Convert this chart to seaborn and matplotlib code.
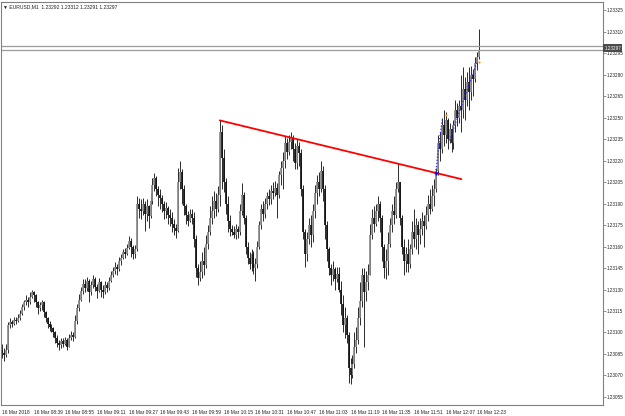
import numpy as np
import pandas as pd
import matplotlib
matplotlib.use("Agg")
import matplotlib.pyplot as plt
import matplotlib.transforms as mtransforms
import seaborn as sns

# ---------------- data (prices expressed in points above 1.23000) ----------------
base_price = 1.23
first_open_pts = 88

close_pts = [
    86, 84, 88, 105, 107, 106, 109, 108, 110, 113,
    118, 121, 123, 121, 125, 128, 126, 121, 117, 119,
    121, 114, 110, 106, 104, 103, 100, 96, 93, 91,
    94, 92, 95, 90, 96, 98, 97, 108, 117, 123,
    129, 134, 131, 136, 128, 133, 137, 132, 129, 135,
    130, 128, 133, 131, 136, 140, 143, 146, 144, 150,
    152, 156, 155, 159, 164, 160, 155, 158, 190, 186,
    185, 190, 183, 188, 181, 192, 203, 208, 200, 196,
    194, 190, 185, 187, 182, 180, 176, 173, 171, 205,
    212, 200, 188, 182, 178, 183, 180, 165, 145, 138,
    142, 150, 147, 162, 170, 180, 185, 192, 186, 196,
    240, 222, 205, 190, 178, 172, 170, 168, 172, 170,
    185, 196, 180, 160, 152, 148, 155, 145, 148, 160,
    175, 186, 183, 190, 195, 193, 199, 197, 201, 196,
    210, 215, 220, 232, 226, 233, 236, 228, 218, 230,
    225, 200, 170, 155, 165, 175, 168, 185, 197, 205,
    200, 213, 200, 175, 158, 145, 140, 144, 137, 141,
    130, 120, 105, 110, 98, 75, 70, 78, 90, 95,
    110, 122, 140, 128, 135, 140, 168, 180, 176, 185,
    190, 180, 160, 145, 150, 162, 175, 185, 182, 200,
    205, 180, 160, 150, 155, 148, 158, 170, 165, 175,
    168, 172, 178, 174, 182, 190, 186, 195, 200, 213,
    232, 228, 245, 238, 248, 235, 242, 232, 245, 255,
    250, 258, 255, 270, 262, 275, 268, 280, 277, 288,
    292, 297,
]
high_pts = [
    92, 89, 92, 107, 110, 109, 111, 111, 113, 116,
    120, 123, 126, 125, 128, 130, 129, 127, 122, 121,
    123, 122, 115, 111, 108, 106, 104, 101, 98, 95,
    96, 96, 97, 96, 99, 101, 100, 112, 120, 127,
    132, 137, 137, 139, 137, 136, 140, 139, 134, 138,
    136, 133, 136, 135, 139, 143, 146, 149, 148, 153,
    155, 158, 159, 162, 167, 166, 161, 161, 195, 194,
    193, 194, 192, 193, 189, 197, 208, 211, 209, 202,
    200, 196, 192, 191, 188, 186, 184, 179, 176, 215,
    220, 214, 203, 190, 185, 186, 186, 184, 168, 148,
    150, 156, 160, 168, 175, 188, 195, 199, 197, 202,
    248, 245, 228, 208, 195, 182, 175, 174, 176, 174,
    190, 204, 198, 182, 163, 156, 158, 157, 152, 164,
    178, 190, 192, 194, 198, 200, 203, 205, 206, 204,
    213, 220, 226, 237, 236, 238, 240, 238, 232, 235,
    233, 228, 203, 172, 170, 180, 182, 190, 203, 210,
    212, 220, 216, 203, 178, 160, 148, 150, 146, 146,
    146, 136, 126, 118, 112, 100, 82, 84, 100, 104,
    118, 135, 145, 145, 143, 148, 176, 186, 188, 190,
    195, 192, 182, 162, 158, 170, 180, 190, 195, 205,
    218, 205, 182, 165, 160, 165, 162, 178, 186, 180,
    178, 180, 184, 182, 188, 196, 200, 203, 207, 215,
    238, 240, 250, 255, 254, 250, 246, 245, 248, 262,
    260, 262, 280, 285, 278, 282, 285, 286, 284, 292,
    296, 312,
]
low_pts = [
    82, 80, 83, 86, 103, 104, 105, 106, 107, 109,
    112, 116, 119, 118, 120, 124, 121, 118, 113, 115,
    116, 111, 107, 103, 101, 100, 97, 93, 90, 88,
    89, 90, 91, 88, 90, 95, 94, 96, 106, 115,
    122, 127, 128, 129, 121, 126, 131, 129, 124, 128,
    125, 124, 127, 128, 130, 135, 139, 141, 140, 143,
    147, 151, 152, 154, 158, 153, 151, 152, 157, 180,
    179, 182, 171, 178, 173, 180, 190, 199, 195, 188,
    186, 184, 179, 180, 176, 174, 170, 168, 166, 170,
    200, 190, 182, 176, 174, 177, 176, 160, 139, 133,
    136, 138, 140, 145, 158, 168, 176, 180, 181, 184,
    188, 200, 198, 183, 170, 167, 168, 166, 165, 166,
    168, 182, 176, 155, 148, 144, 143, 141, 136, 145,
    158, 172, 178, 180, 186, 189, 190, 193, 195, 180,
    194, 203, 200, 215, 221, 224, 228, 220, 214, 214,
    216, 195, 165, 146, 150, 162, 160, 163, 180, 190,
    195, 198, 192, 165, 150, 140, 133, 136, 130, 135,
    128, 112, 100, 96, 93, 65, 64, 68, 75, 86,
    92, 105, 118, 90, 122, 130, 140, 165, 170, 174,
    178, 170, 150, 138, 137, 140, 160, 170, 176, 180,
    198, 175, 155, 140, 142, 142, 145, 155, 160, 158,
    155, 162, 168, 160, 172, 178, 183, 185, 188, 198,
    210, 220, 225, 230, 232, 228, 232, 226, 228, 240,
    244, 246, 240, 250, 248, 258, 255, 262, 265, 275,
    283, 291,
]

time_labels = ["16 Mar 2018", "16 Mar 08:39", "16 Mar 08:55", "16 Mar 09:11",
               "16 Mar 09:27", "16 Mar 09:43", "16 Mar 09:59", "16 Mar 10:15",
               "16 Mar 10:31", "16 Mar 10:47", "16 Mar 11:03", "16 Mar 11:19",
               "16 Mar 11:35", "16 Mar 11:51", "16 Mar 12:07", "16 Mar 12:23"]
bars_per_label = 16
price_tick_pts = list(range(55, 326, 15))

trend_bar = [110, 232]
trend_pts = [248, 207]
zig_bar_a = [219, 220.5, 222.5]
zig_pts_a = [211, 230, 250]
zig_bar_b = [226, 233, 240]
zig_pts_b = [234, 262, 289]
orange_bar = [224, 241]
orange_pts = [252, 289]

bid_pts = 297
ask_pts = 300
title_text = "EURUSD,M1  1.23292 1.23312 1.23291 1.23297"
last_price_text = "1.23297"

# ---------------- build frame ----------------
def to_price(p):
    return base_price + np.asarray(p, dtype=float) / 1e5

close = to_price(close_pts)
high = to_price(high_pts)
low = to_price(low_pts)
open_ = np.concatenate([[to_price(first_open_pts)], close[:-1]])
n = len(close)
df = pd.DataFrame({"bar": np.arange(n), "open": open_, "high": high,
                   "low": low, "close": close})
df["up"] = df["close"] >= df["open"]
df["body_lo"] = np.minimum(df["open"], df["close"])
df["body_hi"] = np.maximum(df["open"], df["close"])

sns.set_theme(style="white")
plt.rcParams["font.family"] = ["Liberation Sans", "DejaVu Sans"]

fig = plt.figure(figsize=(6.25, 4.16), dpi=100)
ax = fig.add_axes([0.0016, 0.0264, 0.9632, 0.9688])

# wicks and bodies
ax.vlines(df["bar"], df["low"], df["high"], color="#2b2b2b", lw=0.7)
upd = df[df["up"]]
dnd = df[~df["up"]]
ax.vlines(upd["bar"], upd["body_lo"], upd["body_hi"], color="#8a8a8a", lw=1.25)
ax.vlines(dnd["bar"], dnd["body_lo"], dnd["body_hi"], color="#111111", lw=1.25)

# bid / ask lines
ax.axhline(to_price(ask_pts), color="#9a9a9a", lw=0.9)
ax.axhline(to_price(bid_pts), color="#9a9a9a", lw=0.9)

# trend line and zigzag
sns.lineplot(x=trend_bar, y=to_price(trend_pts), color="#ff0000", lw=1.3, ax=ax)
sns.lineplot(x=zig_bar_a, y=to_price(zig_pts_a), color="#2a2aff", lw=0.9,
             linestyle=(0, (1, 1.5)), ax=ax)
sns.lineplot(x=zig_bar_b, y=to_price(zig_pts_b), color="#2a2aff", lw=0.9,
             linestyle=(0, (1, 1.5)), ax=ax)
ax.plot([zig_bar_a[0]], [to_price(zig_pts_a[0])], marker="+", color="#0000ff",
        ms=3, mew=1)
ax.plot(orange_bar, to_price(orange_pts), "o", color="#f0a020", ms=1.6, mew=0)

# limits
ax.set_xlim(-0.5, 303.5)
ax.set_ylim(to_price(49.4), to_price(330.6))

# axes styling
for s in ax.spines.values():
    s.set_color("#808080")
    s.set_linewidth(0.8)
ax.yaxis.tick_right()
ax.set_yticks(to_price(price_tick_pts))
ax.set_yticklabels([f"{p:.5f}" for p in to_price(price_tick_pts)])
ax.set_xticks(np.arange(len(time_labels)) * bars_per_label)
ax.set_xticklabels(time_labels)
for lbl in ax.get_xticklabels():
    lbl.set_ha("left")
ax.tick_params(axis="y", direction="out", length=2, width=0.6, color="#808080",
               labelsize=3.3, pad=0.6, labelcolor="#222222")
ax.tick_params(axis="x", direction="out", length=2.5, width=0.6, color="#808080",
               labelsize=3.5, pad=0.8, labelcolor="#222222")
ax.set_xlabel("")
ax.set_ylabel("")
ax.grid(False)

# last price box
trans = mtransforms.blended_transform_factory(ax.transAxes, ax.transData)
ax.text(1.002, to_price(bid_pts + 1.5), last_price_text, transform=trans,
        fontsize=3.3, color="white", va="center", ha="left",
        bbox=dict(boxstyle="square,pad=0.3", fc="#4a4a4a", ec="none"))

# title
fig.text(3 / 625, 1 - 7 / 416, "\u25BC " + title_text, fontsize=3.6,
         color="#222222", va="center", ha="left",
         family=["Liberation Sans", "DejaVu Sans"])

fig.savefig("out.png", dpi=100)
